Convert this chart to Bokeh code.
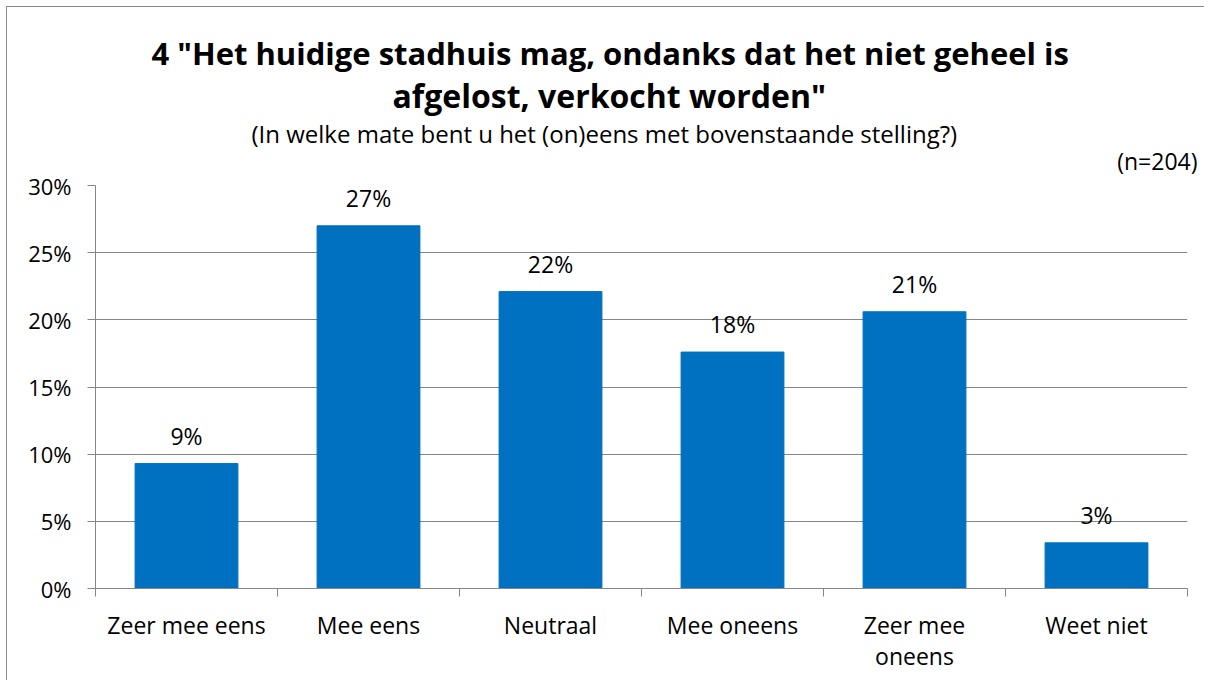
from bokeh.plotting import figure
from bokeh.models import (ColumnDataSource, Range1d, FixedTicker, NumeralTickFormatter, Title)
from bokeh.embed import file_html
from bokeh.resources import INLINE
from bokeh.core.properties import value

# ---- data ----
categories = ["Zeer mee eens", "Mee eens", "Neutraal", "Mee oneens", "Zeer mee\noneens", "Weet niet"]
shares = [0.093, 0.270, 0.221, 0.176, 0.206, 0.034]
y_ticks = [0.0, 0.05, 0.10, 0.15, 0.20, 0.25, 0.30]
title_line1 = '4 "Het huidige stadhuis mag, ondanks dat het niet geheel is'
title_line2 = 'afgelost, verkocht worden"'
subtitle = "(In welke mate bent u het (on)eens met bovenstaande stelling?)"
n_note = "(n=204)"

FONT = "Open Sans"
BAR = "#0070C0"
GRID = "#868686"
W, H = 1198, 674

xs = [i + 0.5 for i in range(len(categories))]
labels = ["%d%%" % round(v * 100) for v in shares]
src = ColumnDataSource(dict(x=xs, top=shares, label=labels))

p = figure(width=W, height=H, output_backend="svg", toolbar_location=None,
           x_range=Range1d(0, len(categories)), y_range=Range1d(0, 0.30),
           min_border_left=88, min_border_right=18, min_border_top=178, min_border_bottom=93,
           styles={"margin-left": "6px", "margin-top": "6px",
                   "border-left": "1px solid #898989", "border-top": "1px solid #898989"})
p.background_fill_color = "white"
p.border_fill_color = "white"
p.outline_line_color = None

p.vbar(x="x", top="top", bottom=0, width=0.565, source=src, fill_color=BAR, line_color=BAR)
p.text(x="x", y="top", text="label", source=src, text_align="center", text_baseline="bottom",
       y_offset=-12, text_font=value(FONT), text_font_size="23px", text_color="black")

# y axis
yax = p.yaxis[0]
yax.ticker = FixedTicker(ticks=y_ticks)
yax.formatter = NumeralTickFormatter(format="0%")
yax.major_label_text_font = FONT
yax.major_label_text_font_size = "22px"
yax.major_label_text_color = "black"
yax.major_tick_in = 0
yax.major_tick_out = 8
yax.minor_tick_line_color = None
yax.axis_line_color = GRID
yax.major_tick_line_color = GRID
yax.major_label_standoff = 16

# x axis
xax = p.xaxis[0]
xax.ticker = FixedTicker(ticks=xs, minor_ticks=list(range(len(categories) + 1)))
xax.major_label_overrides = {x: c for x, c in zip(xs, categories)}
xax.major_label_text_font = FONT
xax.major_label_text_font_size = "23px"
xax.major_label_text_color = "black"
xax.major_label_text_line_height = 0.97
xax.major_tick_line_color = None
xax.minor_tick_in = 0
xax.minor_tick_out = 8
xax.minor_tick_line_color = GRID
xax.axis_line_color = GRID
xax.major_label_standoff = 12

p.xgrid.grid_line_color = None
p.ygrid.grid_line_color = GRID
p.ygrid.ticker = FixedTicker(ticks=y_ticks)

# titles (first added sits closest to the plot area)
p.add_layout(Title(text=n_note, align="right", offset=-10, standoff=18,
                   text_font=FONT, text_font_style="normal", text_font_size="23px",
                   text_color="black"), "above")
p.add_layout(Title(text=subtitle, align="left", offset=156, standoff=-33,
                   text_font=FONT, text_font_style="normal", text_font_size="24px",
                   text_color="black"), "above")
p.add_layout(Title(text=title_line2, align="left", offset=297, standoff=30,
                   text_font=FONT, text_font_style="bold", text_font_size="32px",
                   text_color="black"), "above")
p.add_layout(Title(text=title_line1, align="left", offset=56, standoff=-34,
                   text_font=FONT, text_font_style="bold", text_font_size="31px",
                   text_color="black"), "above")

open("out.html", "w").write(file_html(p, INLINE))
